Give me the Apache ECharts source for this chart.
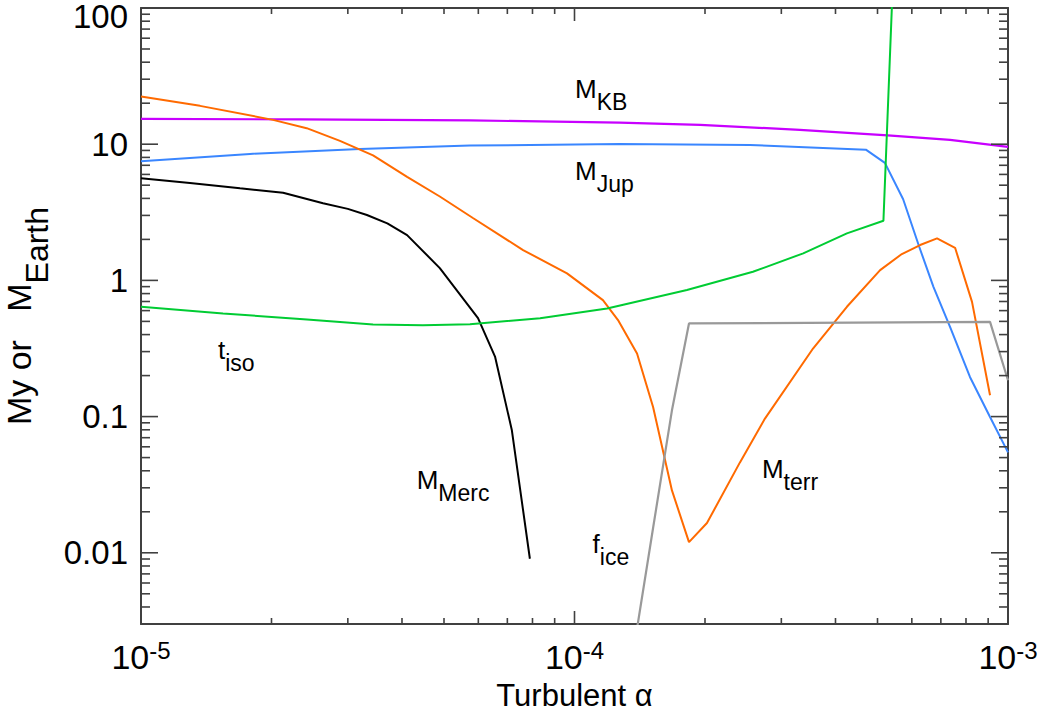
<!DOCTYPE html>
<html><head><meta charset="utf-8">
<script src="https://cdn.jsdelivr.net/npm/echarts@6/dist/echarts.min.js"></script>
<style>html,body{margin:0;padding:0;background:#fff}#c{width:1044px;height:710px}</style>
</head><body><div id="c"></div>
<script>
// ---- data ----
const alphaKB = [1e-5, 2.33e-5, 5.74e-5, 1.27e-4, 1.95e-4, 3.31e-4, 5.28e-4, 7.35e-4, 1e-3];
const massKB  = [15.35, 15.2, 14.96, 14.4, 13.87, 12.74, 11.61, 10.76, 9.55];

const alphaJup = [1e-5, 1.784e-5, 3.20e-5, 5.74e-5, 1.27e-4, 2.54e-4, 4.70e-4, 5.20e-4, 5.73e-4, 6.24e-4, 6.73e-4, 7.35e-4, 8.17e-4, 9.09e-4, 1e-3];
const massJup  = [7.50, 8.49, 9.23, 9.77, 10.05, 9.88, 9.12, 7.29, 3.94, 1.766, 0.897, 0.456, 0.1955, 0.0993, 0.0546];

const alphaMerc = [1e-5, 1.297e-5, 1.692e-5, 2.127e-5, 2.63e-5, 3.0e-5, 3.32e-5, 3.7e-5, 4.11e-5, 4.89e-5, 5.99e-5, 6.56e-5, 7.17e-5, 7.89e-5];
const massMerc  = [5.62, 5.19, 4.74, 4.40, 3.68, 3.35, 3.02, 2.62, 2.15, 1.231, 0.528, 0.274, 0.0793, 0.00904];

const alphaIso = [1e-5, 1.546e-5, 2.415e-5, 3.43e-5, 4.47e-5, 5.74e-5, 8.33e-5, 1.189e-4, 1.817e-4, 2.58e-4, 3.37e-4, 4.25e-4, 5.16e-4, 5.73e-4];
const tIso     = [0.640, 0.572, 0.517, 0.475, 0.469, 0.477, 0.528, 0.622, 0.849, 1.157, 1.579, 2.216, 2.744, 12700];

const alphaTerr = [1e-5, 1.368e-5, 2.016e-5, 2.411e-5, 2.877e-5, 3.43e-5, 4.11e-5, 4.89e-5, 5.83e-5, 7.61e-5, 9.61e-5, 1.163e-4, 1.260e-4, 1.394e-4, 1.518e-4, 1.678e-4, 1.837e-4, 2.021e-4, 2.408e-4, 2.750e-4, 3.55e-4, 4.25e-4, 5.07e-4, 5.69e-4, 6.27e-4, 6.86e-4, 7.55e-4, 8.26e-4, 9.09e-4];
const massTerr  = [22.4, 19.12, 15.09, 13.11, 10.57, 8.27, 5.75, 4.13, 2.871, 1.670, 1.126, 0.716, 0.511, 0.2905, 0.1177, 0.0287, 0.01197, 0.01654, 0.0461, 0.0967, 0.316, 0.640, 1.19, 1.561, 1.818, 2.036, 1.736, 0.696, 0.1434];

const alphaIce = [1.394e-4, 1.518e-4, 1.678e-4, 1.837e-4, 9.09e-4, 1e-3];
const fIce     = [0.00278, 0.0152, 0.1112, 0.483, 0.496, 0.185];

// curve annotations (data coordinates of each label's left/middle)
const noteMain  = ['M', 'M', 't', 'M', 'f', 'M'];
const noteSub   = ['KB', 'Jup', 'iso', 'Merc', 'ice', 'terr'];
const noteAlpha = [1.003e-4, 1.003e-4, 1.505e-5, 4.325e-5, 1.101e-4, 2.706e-4];
const noteValue = [25.4, 6.375, 0.309, 0.03447, 0.01162, 0.04098];

// axes
const xMin = 1e-5, xMax = 1e-3, yMin = 0.003, yMax = 100;
const xTickExp = [-5, -4, -3];
const xTickLabels = ['-5', '-4', '-3'];
const xMajorTicks = [1e-5, 1e-4, 1e-3];
const yTickExp = [-2, -1, 0, 1, 2];
const yTickLabels = ['0.01', '0.1', '1', '10', '100'];
const yMajorTicks = [0.01, 0.1, 1, 10, 100];
const xMinorTicks = [2e-5, 3e-5, 4e-5, 5e-5, 6e-5, 7e-5, 8e-5, 9e-5, 2e-4, 3e-4, 4e-4, 5e-4, 6e-4, 7e-4, 8e-4, 9e-4];
const yMinorTicks = [0.004, 0.005, 0.006, 0.007, 0.008, 0.009, 0.02, 0.03, 0.04, 0.05, 0.06, 0.07, 0.08, 0.09,
                     0.2, 0.3, 0.4, 0.5, 0.6, 0.7, 0.8, 0.9, 2, 3, 4, 5, 6, 7, 8, 9, 20, 30, 40, 50, 60, 70, 80, 90];

const FONT = '"Liberation Sans", Arial, Helvetica, sans-serif';
const AX = '#404040';

function zip(a, b) { return a.map((v, i) => [v, b[i]]); }

function lineSeries(xs, ys, color, w) {
  return { type: 'line', data: zip(xs, ys), showSymbol: false, symbol: 'none',
    lineStyle: { color, width: w || 2 }, clip: true, z: 2 };
}

const commonX = { type: 'log', logBase: 10, min: xMin, max: xMax,
  axisLine: { show: true, onZero: false, lineStyle: { color: AX, width: 2 } },
  axisTick: { show: false },
  splitLine: { show: false } };
const commonY = { type: 'log', logBase: 10, min: yMin, max: yMax,
  axisLine: { show: true, onZero: false, lineStyle: { color: AX, width: 2 } },
  axisTick: { show: false },
  splitLine: { show: false } };

const chart = echarts.init(document.getElementById('c'), null, { renderer: 'svg' });
const option = {
  animation: false,
  backgroundColor: '#fff',
  textStyle: { fontFamily: FONT },
  grid: { left: 141, right: 36, top: 8, bottom: 86, containLabel: false, outerBoundsMode: 'none' },
  xAxis: [
    Object.assign({}, commonX, {
      position: 'bottom',
      name: 'Turbulent α', nameLocation: 'middle', nameGap: 51,
      nameTextStyle: { fontSize: 31, color: '#000', fontFamily: FONT },
      axisLabel: { show: true, margin: 16, color: '#000', fontFamily: FONT,
        formatter: v => { const e = Math.round(Math.log10(v)); const i = xTickExp.indexOf(e);
          return i < 0 ? '' : '{b|10}{s|' + xTickLabels[i] + '}'; },
        rich: { b: { fontSize: 34, lineHeight: 34, fontFamily: FONT, color: '#000' },
                s: { fontSize: 24, lineHeight: 24, padding: [0, 0, 13, 0], fontFamily: FONT, color: '#000' } } }
    }),
    Object.assign({}, commonX, { position: 'top', axisLabel: { show: false } })
  ],
  yAxis: [
    Object.assign({}, commonY, {
      position: 'left',
      name: '{a|My or   M}{b|Earth}', nameLocation: 'middle', nameGap: 76, nameRotate: 90,
      nameTextStyle: { color: '#000', fontFamily: FONT,
        rich: { a: { fontSize: 34, lineHeight: 34, fontFamily: FONT, color: '#000' },
                b: { fontSize: 32, lineHeight: 32, padding: [36, 0, 0, 0], fontFamily: FONT, color: '#000' } } },
      axisLabel: { show: true, margin: 13, showMinLabel: false, color: '#000', fontFamily: FONT,
        formatter: v => { const e = Math.round(Math.log10(v)); const i = yTickExp.indexOf(e);
          if (i < 0 || Math.abs(Math.log10(v) - e) > 0.01) return '';
          return (e === 2 ? '{t|' : '{n|') + yTickLabels[i] + '}'; },
        rich: { n: { fontSize: 33, lineHeight: 33, fontFamily: FONT, color: '#000' },
                t: { fontSize: 33, lineHeight: 33, padding: [17, 0, 0, 0], fontFamily: FONT, color: '#000' } } }
    }),
    Object.assign({}, commonY, { position: 'right', axisLabel: { show: false } })
  ],
  series: [
    lineSeries(alphaKB, massKB, '#C800FF', 2.2),
    lineSeries(alphaJup, massJup, '#3A86FF', 2),
    lineSeries(alphaTerr, massTerr, '#FF6A00', 2),
    lineSeries(alphaMerc, massMerc, '#000000', 2),
    lineSeries(alphaIso, tIso, '#00CC33', 2),
    lineSeries(alphaIce, fIce, '#999999', 2.2)
  ]
};
chart.setOption(option);

// ticks (minor and major, all four sides) and curve notes, placed through the chart's own axis scales
const px = v => chart.convertToPixel({ xAxisIndex: 0 }, v);
const py = v => chart.convertToPixel({ yAxisIndex: 0 }, v);
const gL = px(xMin), gR = px(xMax), gT = py(yMax), gB = py(yMin);
const TW = 1.6;
const els = [];
function vTick(x, y0, len) {  // len > 0 : downward from y0, len < 0 : upward
  const y = len > 0 ? y0 : y0 + len;
  els.push({ type: 'rect', silent: true, z: 10, shape: { x: x - TW / 2, y: y, width: TW, height: Math.abs(len) }, style: { fill: AX } });
}
function hTick(x0, y, len) {
  const x = len > 0 ? x0 : x0 + len;
  els.push({ type: 'rect', silent: true, z: 10, shape: { x: x, y: y - TW / 2, width: Math.abs(len), height: TW }, style: { fill: AX } });
}
xMinorTicks.forEach(v => { const x = px(v); vTick(x, gB, -6); vTick(x, gT, 6); });
xMajorTicks.forEach(v => { const x = px(v); vTick(x, gB, -13); vTick(x, gT, 13); });
yMinorTicks.forEach(v => { const y = py(v); hTick(gL, y, 9); hTick(gR, y, -9); });
yMajorTicks.forEach(v => { const y = py(v); hTick(gL, y, 17); hTick(gR, y, -17); });
const noteRich = { m: { fontSize: 26, lineHeight: 26, fontFamily: FONT, fill: '#000' },
                   s: { fontSize: 23, lineHeight: 23, padding: [26, 0, 0, 0], fontFamily: FONT, fill: '#000' } };
noteAlpha.forEach((a, i) => {
  els.push({ type: 'text', silent: true, z: 11, x: px(a), y: py(noteValue[i]),
    style: { text: '{m|' + noteMain[i] + '}{s|' + noteSub[i] + '}', rich: noteRich, fill: '#000',
      align: 'left', verticalAlign: 'middle', fontFamily: FONT, fontSize: 26 } });
});
chart.setOption({ graphic: { elements: els } });
</script></body></html>
